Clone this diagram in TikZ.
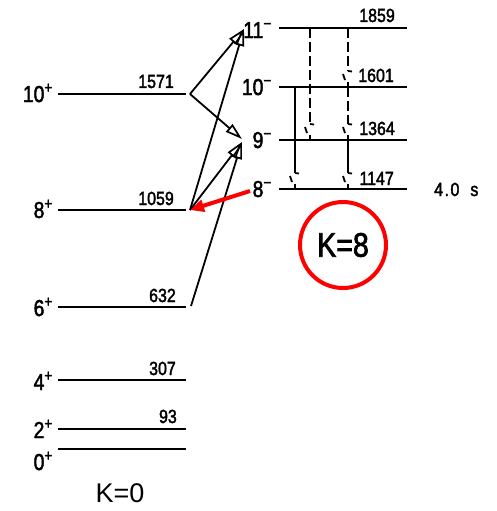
\documentclass[tikz,border=0pt]{standalone}
\usepackage{fontspec}
\setmainfont{Liberation Sans}
\newfontfamily\cf[FakeStretch=0.84,FakeBold=2]{Liberation Sans}
\usetikzlibrary{arrows.meta}
\newcommand\gmark[2]{%
  \draw[gam] (#1,#2-16) -- (#1+4,#2-15.5);
  \draw[gam] (#1-5,#2-13) -- (#1-3,#2-7);
  \draw[gam] (#1,#2-5) -- (#1,#2);}
\begin{document}
\begin{tikzpicture}[x=1pt,y=-1pt,
  level/.style={line width=2.2pt},
  trans/.style={line width=1.8pt,-{Triangle[open,length=17pt,width=10pt,line width=1.7pt]}},
  gam/.style={line width=1.8pt},
  dsh/.style={line width=1.8pt,dash pattern=on 10pt off 4pt},
  spin/.style={font=\cf\fontsize{23}{23}\selectfont,inner sep=0pt,anchor=base east},
  en/.style={font=\cf\fontsize{19}{19}\selectfont,inner sep=0pt,anchor=base east},
]
\useasboundingbox (0,0) rectangle (497,511);
% K=0 band levels
\coordinate (g0a) at (58,449);  \coordinate (g0b) at (186,449);
\coordinate (g2a) at (58,429);  \coordinate (g2b) at (186,429);
\coordinate (g4a) at (58,380);  \coordinate (g4b) at (186,380);
\coordinate (g6a) at (58,307);  \coordinate (g6b) at (186,307);
\coordinate (g8a) at (58,210);  \coordinate (g8b) at (186,210);
\coordinate (g10a) at (58,94);  \coordinate (g10b) at (186,94);
\foreach \n in {0,2,4,6,8,10} \draw[level] (g\n a) -- (g\n b);
\node[spin] (s0) at (53,470) {0\textsuperscript{+}};
\node[spin] (s2) at (53,438) {2\textsuperscript{+}};
\node[spin] (s4) at (53,390) {4\textsuperscript{+}};
\node[spin] (s6) at (53,316) {6\textsuperscript{+}};
\node[spin] (s8) at (53,218) {8\textsuperscript{+}};
\node[spin] (s10) at (53,102) {10\textsuperscript{+}};
\node[en] (e2) at (177,423) {93};
\node[en] (e4) at (176,375) {307};
\node[en] (e6) at (176,302) {632};
\node[en] (e8) at (174,205) {1059};
\node[en] (e10) at (174,88) {1571};
% K=8 band levels
\coordinate (k8a) at (279,189);  \coordinate (k8b) at (407,189);
\coordinate (k9a) at (279,140);  \coordinate (k9b) at (407,140);
\coordinate (k10a) at (279,87);  \coordinate (k10b) at (407,87);
\coordinate (k11a) at (279,28);  \coordinate (k11b) at (407,28);
\foreach \n in {8,9,10,11} \draw[level] (k\n a) -- (k\n b);
\node[spin] (m8) at (272,197) {8\textsuperscript{\char"2212}};
\node[spin] (m9) at (272,148) {9\textsuperscript{\char"2212}};
\node[spin] (m10) at (272,95) {10\textsuperscript{\char"2212}};
\node[spin] (m11) at (272,38) {11\textsuperscript{\char"2212}};
\node[en] (f8) at (394,185) {1147};
\node[en] (f9) at (395,135) {1364};
\node[en] (f10) at (394,82) {1601};
\node[en] (f11) at (395,22) {1859};
\node[font=\cf\fontsize{19}{19}\selectfont,inner sep=0pt,anchor=base west] (hl) at (434,196) {4\kern1.5pt.\kern1.5pt0\kern11pt s};
% interband transitions
\coordinate (t10) at (190,94);
\coordinate (t8) at (190,210);
\coordinate (t6) at (191,306);
\coordinate (h11) at (244,29);
\coordinate (h9a) at (242,139);
\coordinate (h9b) at (242,142);
\draw[trans] (t10) -- (h11);
\draw[trans] (t10) -- (h9a);
\draw[trans] (t8) -- (h11);
\draw[trans] (t8) -- (h9b);
\draw[trans] (t6) -- (h9b);
% intraband transitions
\draw[dsh] (310,28) -- (310,124); \gmark{310}{140}
\draw[gam] (295,87) -- (295,173); \gmark{295}{189}
\draw[dsh] (348,28) -- (348,71);  \gmark{348}{87}
\draw[dsh] (348,87) -- (348,124); \gmark{348}{140}
\draw[gam] (348,140) -- (348,173); \gmark{348}{189}
% annotations
\coordinate (rs) at (250,191);
\draw[red,line width=4pt,-{Triangle[length=14pt,width=12pt]}] (rs) -- (t8);
\node[circle,draw=red,line width=4pt,minimum size=86pt,inner sep=0pt,font=\cf\fontsize{34}{34}\selectfont] (kk8) at (343,245) {K=8};
\node[font=\fontsize{27}{27}\selectfont,inner sep=0pt] (kk0) at (120,493) {K=0};
\end{tikzpicture}
\end{document}
